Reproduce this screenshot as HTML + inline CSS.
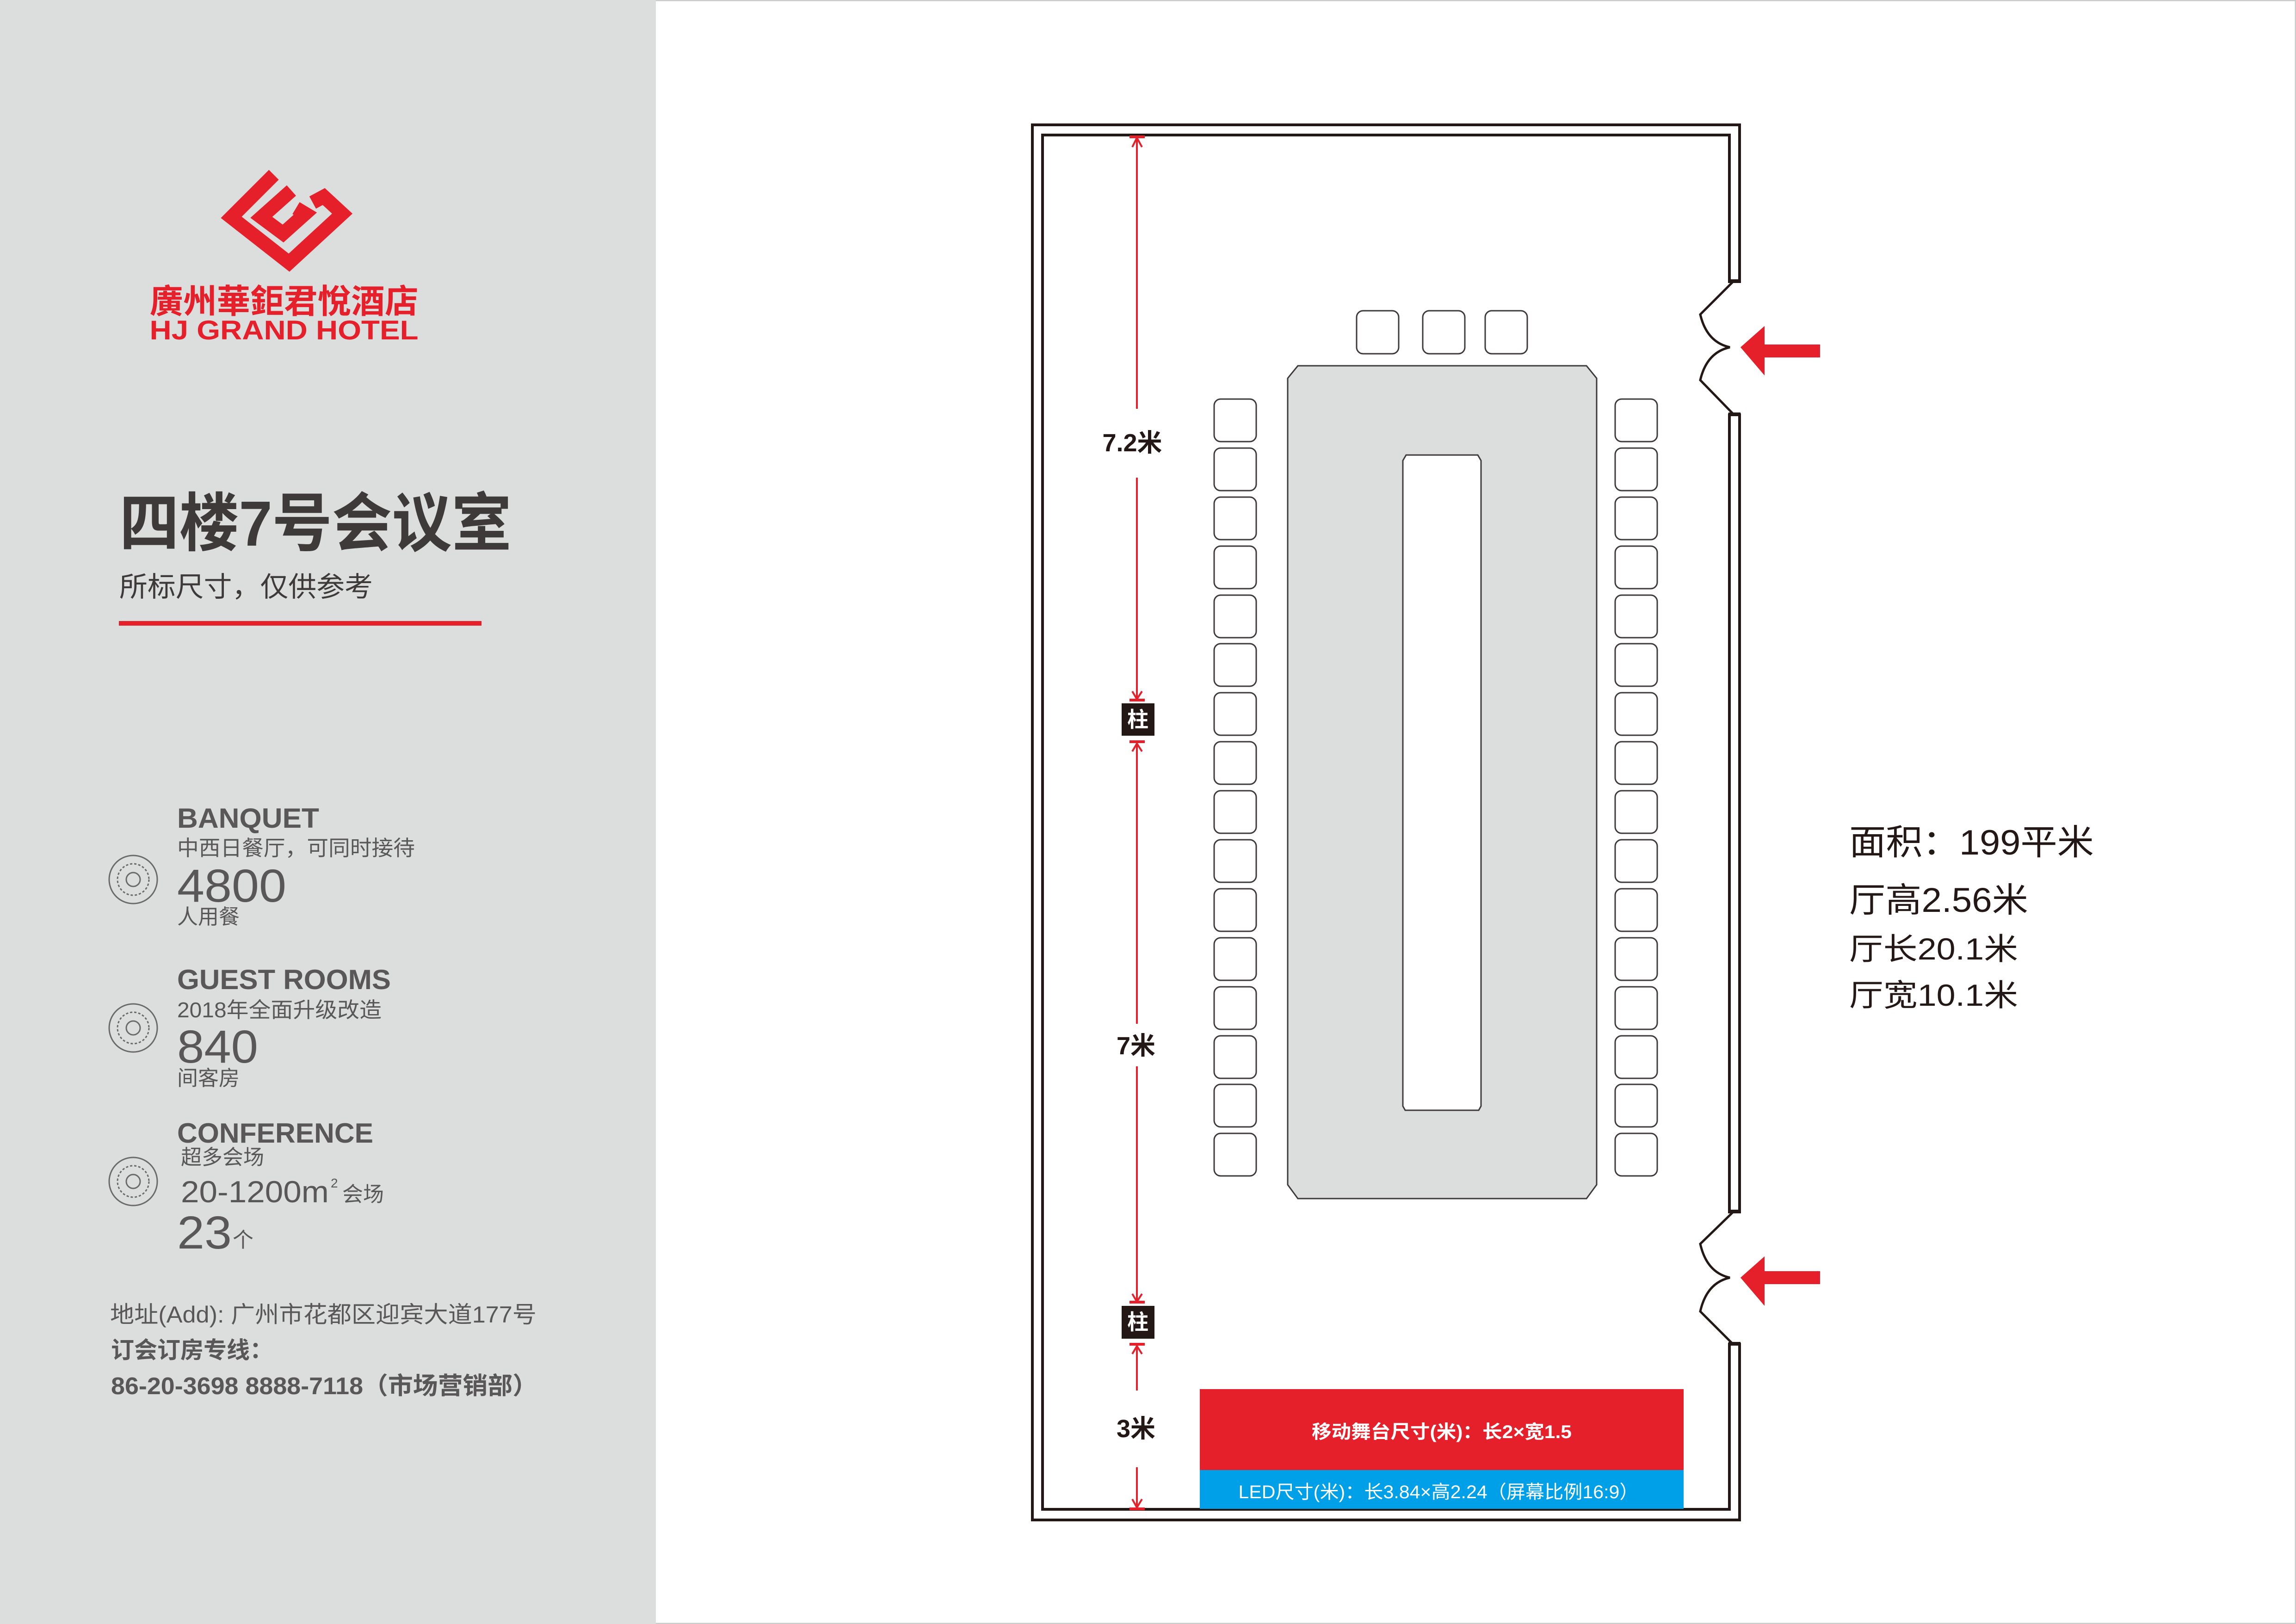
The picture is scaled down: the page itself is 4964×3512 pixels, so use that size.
<!DOCTYPE html>
<html><head><meta charset="utf-8"><style>
html,body{margin:0;padding:0;background:#fff;}
svg{display:block;}
text{font-family:"Liberation Sans","Noto Sans CJK SC",sans-serif;}
</style></head><body>
<svg width="4964" height="3512" viewBox="0 0 4964 3512" xmlns="http://www.w3.org/2000/svg">
<rect x="0" y="0" width="4964" height="3512" fill="#fff"/>
<rect x="1" y="1" width="4962" height="3510" fill="none" stroke="#c9caca" stroke-width="3"/>
<!-- left panel -->
<rect x="0" y="0" width="1418" height="3512" fill="#dcdddd"/>
<!-- logo -->
<g fill="none" stroke="#e5202a" stroke-width="30" stroke-linejoin="miter">
<polyline points="592,378 500,470 625,568 740,462 700,425 676,438"/>
<polyline points="630,412 565,470 612,505 660,462 640,450"/>
</g>
<text x="614" y="677" font-size="72" font-weight="bold" fill="#e5202a" text-anchor="middle" textLength="581" lengthAdjust="spacingAndGlyphs" font-family="'Noto Sans CJK TC',sans-serif">廣州華鉅君悅酒店</text>
<text x="614" y="734" font-size="58" font-weight="900" fill="#e5202a" text-anchor="middle" textLength="581" lengthAdjust="spacingAndGlyphs">HJ GRAND HOTEL</text>
<text x="258" y="1180" font-size="138" font-weight="bold" fill="#3e3a39" textLength="848" lengthAdjust="spacingAndGlyphs">四楼7号会议室</text>
<text x="258" y="1290" font-size="60" fill="#3e3a39" textLength="548" lengthAdjust="spacingAndGlyphs">所标尺寸，仅供参考</text>
<rect x="257" y="1343" width="784" height="10" fill="#e5202a"/>
<!-- icons -->
<g fill="none" stroke="#6b6969" stroke-width="3">
<circle cx="288" cy="1902" r="52"/><circle cx="288" cy="1902" r="34" stroke-dasharray="5,4"/><circle cx="288" cy="1902" r="15"/>
<circle cx="288" cy="2223" r="52"/><circle cx="288" cy="2223" r="34" stroke-dasharray="5,4"/><circle cx="288" cy="2223" r="15"/>
<circle cx="288" cy="2555" r="52"/><circle cx="288" cy="2555" r="34" stroke-dasharray="5,4"/><circle cx="288" cy="2555" r="15"/>
</g>
<g fill="#595757">
<text x="383" y="1790" font-size="60" font-weight="bold" textLength="307" lengthAdjust="spacingAndGlyphs">BANQUET</text>
<text x="383" y="1850" font-size="46" textLength="514" lengthAdjust="spacingAndGlyphs">中西日餐厅，可同时接待</text>
<text x="383" y="1950" font-size="100" textLength="236" lengthAdjust="spacingAndGlyphs">4800</text>
<text x="383" y="1998" font-size="45">人用餐</text>
<text x="383" y="2139" font-size="60" font-weight="bold" textLength="462" lengthAdjust="spacingAndGlyphs">GUEST ROOMS</text>
<text x="383" y="2200" font-size="46" textLength="442" lengthAdjust="spacingAndGlyphs">2018年全面升级改造</text>
<text x="383" y="2298" font-size="100" textLength="175" lengthAdjust="spacingAndGlyphs">840</text>
<text x="383" y="2347" font-size="45">间客房</text>
<text x="383" y="2471" font-size="60" font-weight="bold" textLength="424" lengthAdjust="spacingAndGlyphs">CONFERENCE</text>
<text x="391" y="2518" font-size="45">超多会场</text>
<text x="391" y="2600" font-size="66" textLength="320" lengthAdjust="spacingAndGlyphs">20-1200m</text>
<text x="715" y="2568" font-size="28">2</text>
<text x="740" y="2598" font-size="45">会场</text>
<text x="383" y="2700" font-size="100" textLength="118" lengthAdjust="spacingAndGlyphs">23</text>
<text x="503" y="2697" font-size="45">个</text>
<text x="238" y="2860" font-size="50" textLength="922" lengthAdjust="spacingAndGlyphs">地址(Add): 广州市花都区迎宾大道177号</text>
<text x="240" y="2937" font-size="50" font-weight="bold">订会订房专线：</text>
<text x="240" y="3015" font-size="52" font-weight="bold" textLength="922" lengthAdjust="spacingAndGlyphs">86-20-3698 8888-7118（市场营销部）</text>
</g>
<!-- walls -->
<g fill="none" stroke="#231815" stroke-width="6">
<rect x="2232" y="270" width="1529" height="3017"/>
<rect x="2254" y="292" width="1485" height="2972"/>
</g>
<rect x="3730" y="612" width="40" height="282" fill="#fff"/>
<rect x="3730" y="2624" width="40" height="280" fill="#fff"/>
<g fill="#231815">
<rect x="3737" y="604" width="26" height="8"/><rect x="3737" y="892" width="26" height="8"/>
<rect x="3737" y="2616" width="26" height="8"/><rect x="3737" y="2902" width="26" height="8"/>
</g>
<g fill="none" stroke="#231815" stroke-width="5">
<path d="M3746,610 L3676,680 Q3690,740 3740,751 Q3690,762 3676,822 L3746,894"/>
<path d="M3746,2622 L3676,2690 Q3690,2752 3740,2763 Q3690,2774 3676,2836 L3746,2906"/>
</g>
<g fill="#e5202a">
<polygon points="3763,751 3815,705 3815,745 3935,745 3935,773 3815,773 3815,812"/>
<polygon points="3763,2763 3815,2717 3815,2749 3935,2749 3935,2777 3815,2777 3815,2824"/>
</g>
<!-- table -->
<path d="M2806,791 L3430,791 L3452,818 L3452,2562 L3430,2592 L2806,2592 L2784,2562 L2784,818 Z" fill="#dcdddd" stroke="#3e3a39" stroke-width="3"/>
<path d="M3040,984 L3195,984 L3202,996 L3202,2392 L3197,2401 L3038,2401 L3033,2392 L3033,996 Z" fill="#fff" stroke="#3e3a39" stroke-width="3"/>
<!-- chairs -->
<g fill="#fff" stroke="#3e3a39" stroke-width="3">
<rect x="2933" y="672" width="91" height="93" rx="14"/>
<rect x="3076" y="672" width="91" height="93" rx="14"/>
<rect x="3211" y="672" width="91" height="93" rx="14"/>
<rect x="2625" y="863" width="91" height="92" rx="14"/><rect x="3492" y="863" width="91" height="92" rx="14"/>
<rect x="2625" y="969" width="91" height="92" rx="14"/><rect x="3492" y="969" width="91" height="92" rx="14"/>
<rect x="2625" y="1075" width="91" height="92" rx="14"/><rect x="3492" y="1075" width="91" height="92" rx="14"/>
<rect x="2625" y="1181" width="91" height="92" rx="14"/><rect x="3492" y="1181" width="91" height="92" rx="14"/>
<rect x="2625" y="1287" width="91" height="92" rx="14"/><rect x="3492" y="1287" width="91" height="92" rx="14"/>
<rect x="2625" y="1392" width="91" height="92" rx="14"/><rect x="3492" y="1392" width="91" height="92" rx="14"/>
<rect x="2625" y="1498" width="91" height="92" rx="14"/><rect x="3492" y="1498" width="91" height="92" rx="14"/>
<rect x="2625" y="1604" width="91" height="92" rx="14"/><rect x="3492" y="1604" width="91" height="92" rx="14"/>
<rect x="2625" y="1710" width="91" height="92" rx="14"/><rect x="3492" y="1710" width="91" height="92" rx="14"/>
<rect x="2625" y="1816" width="91" height="92" rx="14"/><rect x="3492" y="1816" width="91" height="92" rx="14"/>
<rect x="2625" y="1922" width="91" height="92" rx="14"/><rect x="3492" y="1922" width="91" height="92" rx="14"/>
<rect x="2625" y="2028" width="91" height="92" rx="14"/><rect x="3492" y="2028" width="91" height="92" rx="14"/>
<rect x="2625" y="2134" width="91" height="92" rx="14"/><rect x="3492" y="2134" width="91" height="92" rx="14"/>
<rect x="2625" y="2240" width="91" height="92" rx="14"/><rect x="3492" y="2240" width="91" height="92" rx="14"/>
<rect x="2625" y="2345" width="91" height="92" rx="14"/><rect x="3492" y="2345" width="91" height="92" rx="14"/>
<rect x="2625" y="2451" width="91" height="92" rx="14"/><rect x="3492" y="2451" width="91" height="92" rx="14"/>
</g>
<!-- dimension lines -->
<g stroke="#e5202a" stroke-width="4" fill="none">
<line x1="2458" y1="295" x2="2458" y2="884"/>
<line x1="2458" y1="1033" x2="2458" y2="1512"/>
<line x1="2458" y1="1607" x2="2458" y2="2214"/>
<line x1="2458" y1="2306" x2="2458" y2="2815"/>
<line x1="2458" y1="2910" x2="2458" y2="3007"/>
<line x1="2458" y1="3173" x2="2458" y2="3262"/>
<polyline points="2448,318 2458,298 2469,318"/>
<polyline points="2448,1495 2458,1512 2469,1495"/>
<polyline points="2448,1625 2458,1608 2469,1625"/>
<polyline points="2448,2798 2458,2815 2469,2798"/>
<polyline points="2448,2928 2458,2911 2469,2928"/>
<polyline points="2448,3242 2458,3260 2469,3242"/>
</g>
<g fill="#e5202a">
<rect x="2442" y="293" width="33" height="6"/>
<rect x="2442" y="1511" width="33" height="6"/><rect x="2442" y="1601" width="33" height="6"/>
<rect x="2442" y="2813" width="33" height="6"/><rect x="2442" y="2904" width="33" height="6"/>
<rect x="2442" y="3260" width="33" height="6"/>
</g>
<rect x="2425" y="1521" width="71" height="70" fill="#231815"/>
<rect x="2425" y="2824" width="71" height="71" fill="#231815"/>
<text x="2460" y="1572" font-size="46" font-weight="bold" fill="#fff" text-anchor="middle">柱</text>
<text x="2460" y="2875" font-size="46" font-weight="bold" fill="#fff" text-anchor="middle">柱</text>
<g fill="#231815" font-weight="bold" text-anchor="middle">
<text x="2448" y="976" font-size="54">7.2米</text>
<text x="2456" y="2280" font-size="54">7米</text>
<text x="2456" y="3108" font-size="54">3米</text>
</g>
<!-- stage -->
<rect x="2594" y="3004" width="1046" height="175" fill="#e5202a"/>
<rect x="2594" y="3179" width="1046" height="84" fill="#00a0e9"/>
<text x="3117" y="3110" font-size="40" font-weight="bold" fill="#fff" text-anchor="middle" textLength="562" lengthAdjust="spacingAndGlyphs">移动舞台尺寸(米)：长2×宽1.5</text>
<text x="3110" y="3240" font-size="40" fill="#fff" text-anchor="middle" textLength="865" lengthAdjust="spacingAndGlyphs">LED尺寸(米)：长3.84×高2.24（屏幕比例16:9）</text>
<!-- right info -->
<g fill="#231815">
<text x="3998" y="1848" font-size="76" textLength="529" lengthAdjust="spacingAndGlyphs">面积：199平米</text>
<text x="3998" y="1972" font-size="74" textLength="387" lengthAdjust="spacingAndGlyphs">厅高2.56米</text>
<text x="3998" y="2075" font-size="66" textLength="365" lengthAdjust="spacingAndGlyphs">厅长20.1米</text>
<text x="3998" y="2175" font-size="66" textLength="365" lengthAdjust="spacingAndGlyphs">厅宽10.1米</text>
</g>
</svg>
</body></html>
